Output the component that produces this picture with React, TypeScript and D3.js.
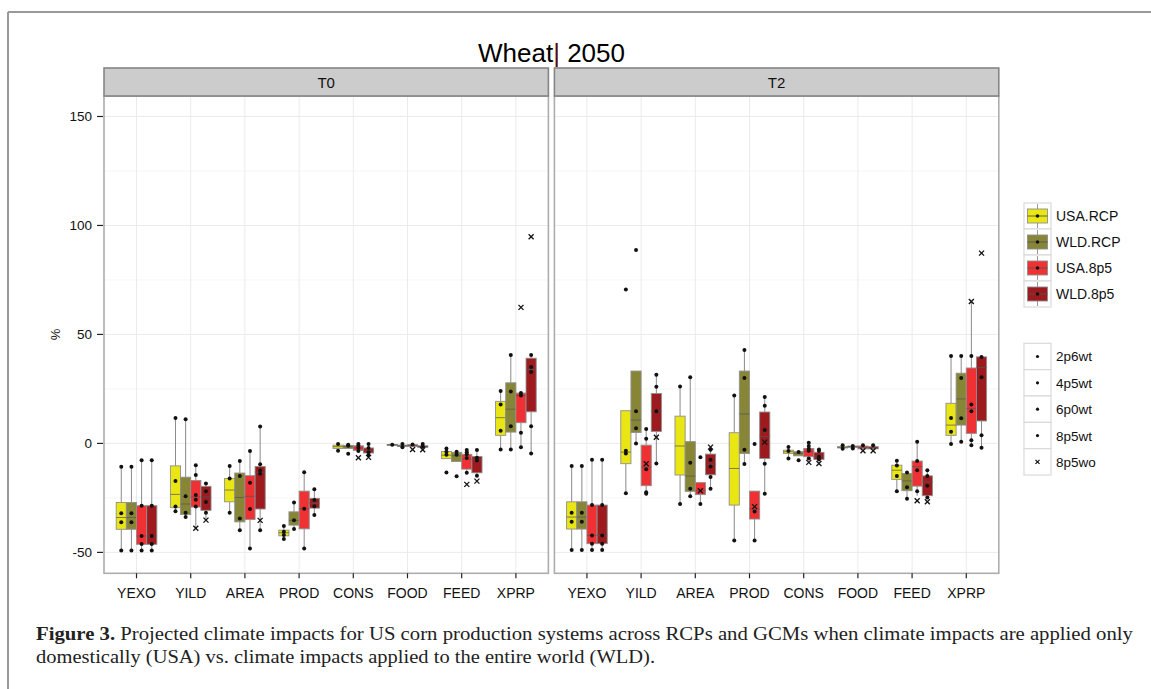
import React from 'react';
import * as d3 from 'd3';

const categories = ['YEXO', 'YILD', 'AREA', 'PROD', 'CONS', 'FOOD', 'FEED', 'XPRP'];
const groups = ['USA.RCP', 'WLD.RCP', 'USA.8p5', 'WLD.8p5'];
const groupColors = ['#E9E614', '#878636', '#EF3134', '#9D1B1F'];
const panels = ['T0', 'T2'];
const yTicks = [-50, 0, 50, 100, 150];
const yMinor = [-25, 25, 75, 125];
const pointLegend = ['2p6wt', '4p5wt', '6p0wt', '8p5wt', '8p5wo'];

// [lowWhisker, q1, median, q3, highWhisker] per category, per group
const statsT0 = [
  [[-49.1, -39.4, -34, -27.1, -10.7], [-49.1, -39.4, -34, -27.1, -10.7], [-49.1, -46.3, -42.5, -28.6, -7.7], [-49.1, -46.3, -42.5, -28.6, -7.7]],
  [[-31.1, -29.5, -23.4, -10.3, 11.6], [-33.8, -32.6, -27.8, -15.5, 11.1], [-38.9, -29.2, -24.6, -17, -10], [-35.2, -30.7, -24.6, -19.7, -18.4]],
  [[-31.8, -26.8, -21.4, -16.1, -10.4], [-39.9, -36, -24.8, -13.6, -8.1], [-48.2, -34.9, -24.3, -14.8, -3.5], [-39.9, -30.1, -13.2, -10.6, 7.8]],
  [[-43.9, -42.4, -41, -39.8, -37.9], [-39.3, -37.5, -35.3, -31.4, -27.1], [-48.2, -39.2, -30, -21.9, -13.2], [-32.9, -29.7, -27.5, -25.2, -21]],
  [[-3.4, -2.3, -1.5, -0.8, -0.3], [-2.3, -2.3, -1.5, -0.9, -0.6], [-3.5, -3.2, -2.1, -1.1, -0.3], [-6.4, -4.4, -3.1, -2.1, -0.3]],
  [[-0.8, -0.7, -0.6, -0.5, -0.4], [-1.8, -1.4, -1.1, -0.8, -0.3], [-1.5, -1.4, -0.9, -0.6, -0.5], [-2.9, -1.8, -1.4, -1.1, -0.3]],
  [[-7, -7, -5.4, -3.7, -2.3], [-8.3, -8.3, -5.7, -4.1, -3.8], [-13.5, -11.8, -7.2, -5, -3], [-14.8, -13.5, -7.5, -6, -3]],
  [[-2.8, 3.7, 11.8, 19.3, 24], [-2.8, 5.2, 15.7, 27.8, 40.6], [-1.8, 9.5, 22, 23.1, 23.1], [-4.6, 14.5, 33.9, 39.1, 40.6]],
];
const dotsT0 = [
  [[-10.7, -32.1, -36.2, -49.1], [-10.7, -32.1, -36.2, -49.1], [-7.7, -28.6, -42.5, -46.2, -49.1], [-7.7, -28.6, -42.5, -46.2, -49.1]],
  [[11.6, -17.3, -29, -31.1], [11.1, -24.2, -31.8, -33.8], [-10, -14.5, -23.7, -25.9, -29], [-18.4, -21.9, -26.9, -31.8]],
  [[-10.4, -16.1, -31.8], [-8.1, -15, -34.4, -39.9], [-3.5, -18, -30.1, -48.2], [7.8, -9.6, -12.4, -13.9, -39.9]],
  [[-37.9, -40.5, -42, -43.9], [-27.1, -35.3, -39.3], [-13.2, -30, -48.2], [-21, -26, -28.8, -32.9]],
  [[-0.3, -3.4], [-0.6, -1.1, -4.7], [-0.3, -1.1, -2.1, -3.5], [-0.3, -2.1, -4.1, -5.4]],
  [[-0.6], [-0.3, -1.8], [-0.5], [-0.3, -1.4]],
  [[-2.3, -3.8, -5.2, -13.3], [-3.8, -5.2, -15.1], [-3, -4.1, -5, -6.7, -13.5], [-3, -6.6, -7.9, -14.8]],
  [[24, 17.9, 5.8, -2.8], [40.6, 23.8, 7.9, -2.8], [23.1, 22, 4.9, -1.8], [40.6, 35.1, 32.8, 7.9, -4.6]],
];
const crossT0 = [
  [[], [], [], []],
  [[], [], [-38.9], [-35.2]],
  [[], [], [], [-35.3]],
  [[], [], [], []],
  [[], [], [-6.6], [-6.4]],
  [[], [], [-2.8], [-2.9]],
  [[], [], [-18.8], [-17.3]],
  [[], [], [62.4], [94.8]],
];

const statsT2 = [
  [[-48.9, -39.3, -33.8, -26.8, -10.4], [-48.9, -39.3, -33.8, -26.8, -10.4], [-48.9, -46, -42.2, -28.3, -7.5], [-48.9, -46, -42.2, -28.3, -7.5]],
  [[-22.9, -9.3, -4, 15, 15], [0, 5, 10.7, 33.2, 33.2], [-23.1, -19.4, -10.9, -0.8, 6.6], [-9.2, 5.5, 14.8, 22.9, 31.5]],
  [[-27.8, -14.5, -1.2, 12.5, 26.1], [-24.2, -22, -15, 0.8, 30.3], [-27.8, -23.5, -21.7, -18, -18], [-20.8, -14.4, -9.5, -4.9, -2.9]],
  [[-44.5, -28.3, -11.5, 4.9, 22], [-9.5, -4.6, 13.5, 33.2, 42.8], [-44.5, -34.7, -30.1, -21.9, -21.9], [-23.1, -6.9, 3.2, 14.4, 21.3]],
  [[-6.9, -4.6, -3.8, -3.1, -1.7], [-5.7, -5.7, -4.6, -3.8, -3.8], [-6.9, -6.1, -3.8, -2.3, 0.3], [-7.4, -7.4, -5.8, -4.1, -2.8]],
  [[-2.5, -2.1, -1.8, -1.5, -0.8], [-2.3, -1.8, -1.5, -1.2, -1.2], [-2.5, -2.5, -1.8, -1.2, -0.9], [-2.5, -2.5, -2.1, -1.5, -0.9]],
  [[-21.9, -16.5, -12.3, -10, -8], [-25.4, -21.7, -17.2, -13.8, -12.9], [-24, -19.6, -10.7, -8.1, 0.8], [-24.8, -24, -17.6, -14.9, -12.3]],
  [[-0.3, 3.7, 8.4, 18.4, 40.1], [0.8, 8.4, 20.4, 32.2, 40.1], [-0.9, 4.6, 16.1, 34.6, 65.1], [-2, 10.3, 34.8, 39.7, 39.7]],
];
const dotsT2 = [
  [[-10.4, -31.8, -35.9, -48.9], [-10.4, -31.8, -35.9, -48.9], [-7.5, -28.3, -42.2, -46, -48.9], [-7.5, -28.3, -42.2, -46, -48.9]],
  [[70.6, -3.4, -4.6, -22.9], [88.7, 14.8, 6.9, 0], [6.6, 2.1, -11.9, -22.4, -23.1], [31.5, 26, 14.8, -9.2]],
  [[26.1, -27.8], [30.3, -8.9, -20.8, -24.2], [-6.3, -27.8], [-2.9, -7.5, -10.6, -15.4, -20.8]],
  [[22, -44.5], [42.8, 30, -2.9, -9.5], [-0.3, -31.3, -44.5], [21.3, 17.3, 6.1, -9.3, -23.1]],
  [[-1.7, -3.5, -6.9], [-3.9, -7.7], [0.3, -1.2, -2.5, -3.4, -6.9], [-2.8, -3.5, -6.1, -7.4]],
  [[-0.8, -2.5], [-1.2, -2.3], [-0.9], [-0.9]],
  [[-8, -10.1, -14.9, -21.9], [-13.3, -20.1, -25.4], [0.8, -8.1, -12.3, -21.9], [-12.3, -14.9, -19.4, -24.8]],
  [[40.1, 11.6, 5.4, -0.3], [40.1, 30, 11.5, 0.8], [40.1, 17.9, 14.7, 1.4, -0.9], [39.7, 30.3, 3.7, -2]],
];
const crossT2 = [
  [[], [], [], []],
  [[], [], [-9.3], [2.8]],
  [[], [], [-21.7], [-1.7]],
  [[], [], [-29], [0.6]],
  [[], [], [-8.7], [-9.2]],
  [[], [], [-3.4], [-3.4]],
  [[], [], [-26.3], [-26.8]],
  [[], [], [65.1], [87.3]],
];

const panelStats = [statsT0, statsT2];
const panelDots = [dotsT0, dotsT2];
const panelCross = [crossT0, crossT2];

const W = 1151;
const H = 689;
const panelX0 = [104, 554.4];
const panelW = 444.4;
const panelTop = 96;
const panelBottom = 573.3;

const y = d3.scaleLinear().domain([-59.6, 159.4]).range([panelBottom, panelTop]);

function Cross({ cx, cy, s }: { cx: number; cy: number; s: number }) {
  return (
    <g stroke="#111" strokeWidth={1.3}>
      <line x1={cx - s} y1={cy - s} x2={cx + s} y2={cy + s} />
      <line x1={cx - s} y1={cy + s} x2={cx + s} y2={cy - s} />
    </g>
  );
}

function Panel({ pi }: { pi: number }) {
  const x0 = panelX0[pi];
  const x = d3.scalePoint<string>().domain(categories).range([x0, x0 + panelW]).padding(0.6);
  const step = x.step();
  const bw = (step * 0.75) / 4;
  const stats = panelStats[pi];
  const dots = panelDots[pi];
  const cross = panelCross[pi];
  return (
    <g>
      <rect x={x0} y={panelTop} width={panelW} height={panelBottom - panelTop} fill="#fff" />
      {yMinor.map((v) => (
        <line key={'mi' + v} x1={x0} x2={x0 + panelW} y1={y(v)} y2={y(v)} stroke="#F6F6F6" strokeWidth={1} />
      ))}
      {yTicks.map((v) => (
        <line key={'ma' + v} x1={x0} x2={x0 + panelW} y1={y(v)} y2={y(v)} stroke="#EBEBEB" strokeWidth={1} />
      ))}
      {categories.map((c) => (
        <line key={'vx' + c} x1={x(c)!} x2={x(c)!} y1={panelTop} y2={panelBottom} stroke="#EBEBEB" strokeWidth={1} />
      ))}
      {categories.map((c, ci) =>
        groups.map((g, gi) => {
          const cx = x(c)! + (gi - 1.5) * bw;
          const [lo, q1, med, q3, hi] = stats[ci][gi];
          return (
            <g key={c + g}>
              <line x1={cx} x2={cx} y1={y(hi)} y2={y(q3)} stroke="#8a8a8a" strokeWidth={1} />
              <line x1={cx} x2={cx} y1={y(q1)} y2={y(lo)} stroke="#8a8a8a" strokeWidth={1} />
              <rect
                x={cx - bw / 2}
                y={y(q3)}
                width={bw}
                height={Math.max(1, y(q1) - y(q3))}
                fill={groupColors[gi]}
                stroke="#8f8f8f"
                strokeWidth={0.9}
              />
              <line x1={cx - bw / 2} x2={cx + bw / 2} y1={y(med)} y2={y(med)} stroke="#555" strokeWidth={0.9} strokeOpacity={0.8} />
              {dots[ci][gi].map((v, k) => (
                <circle key={'d' + k} cx={cx} cy={y(v)} r={2} fill="#111" />
              ))}
              {cross[ci][gi].map((v, k) => (
                <Cross key={'x' + k} cx={cx} cy={y(v)} s={2.5} />
              ))}
            </g>
          );
        })
      )}
      <rect x={x0} y={panelTop} width={panelW} height={panelBottom - panelTop} fill="none" stroke="#ADADAD" strokeWidth={1.6} />
      {/* strip */}
      <rect x={x0} y={68} width={panelW} height={panelTop - 68} fill="#CCCCCC" stroke="#858585" strokeWidth={1.6} />
      <text x={x0 + panelW / 2} y={87.5} textAnchor="middle" fontFamily="Liberation Sans, Arial, sans-serif" fontSize={15} fill="#111">
        {panels[pi]}
      </text>
      {/* x axis */}
      {categories.map((c) => (
        <g key={'xt' + c}>
          <line x1={x(c)!} x2={x(c)!} y1={panelBottom} y2={panelBottom + 5} stroke="#222" strokeWidth={1.2} />
          <text x={x(c)!} y={598} textAnchor="middle" fontFamily="Liberation Sans, Arial, sans-serif" fontSize={14} fill="#111">
            {c}
          </text>
        </g>
      ))}
    </g>
  );
}

export default function App() {
  const font = 'Liberation Sans, Arial, sans-serif';
  const serif = "'Liberation Serif', 'DejaVu Serif', serif";
  const leg1Top = 203;
  const leg1H = 26;
  const leg2Top = 343.3;
  const leg2H = 26.35;
  const keyX = 1024;
  const keyW = 27;
  return (
    <svg width={W} height={H} style={{ position: 'absolute', left: 0, top: 0, background: '#fff' }}>
      <rect x={0} y={0} width={W} height={H} fill="#fff" />
      {/* figure frame */}
      <line x1={8} x2={W} y1={12} y2={12} stroke="#999" strokeWidth={2} />
      <line x1={8} x2={8} y1={12} y2={H} stroke="#999" strokeWidth={2} />

      {/* title */}
      <text x={551.5} y={62} textAnchor="middle" fontFamily={font} fontSize={26} fill="#000">
        Wheat<tspan fill="#5a0a0a">|</tspan> 2050
      </text>

      <Panel pi={0} />
      <Panel pi={1} />

      {/* y axis */}
      {yTicks.map((v) => (
        <g key={'yt' + v}>
          <line x1={97} x2={103} y1={y(v)} y2={y(v)} stroke="#222" strokeWidth={1.2} />
          <text x={92} y={y(v) + 4.5} textAnchor="end" fontFamily={font} fontSize={13.5} fill="#111">
            {v}
          </text>
        </g>
      ))}
      <text transform={`translate(60,${y(50)}) rotate(-90)`} textAnchor="middle" fontFamily={font} fontSize={13} fill="#111">
        %
      </text>

      {/* legend 1: groups */}
      {groups.map((g, gi) => {
        const ky = leg1Top + gi * leg1H;
        const cx = keyX + keyW / 2;
        const cy = ky + leg1H / 2;
        return (
          <g key={'lg' + g}>
            <rect x={keyX} y={ky} width={keyW} height={leg1H} fill="#fff" stroke="#DADADA" strokeWidth={1.2} />
            <line x1={cx} x2={cx} y1={ky + 1} y2={ky + leg1H - 1} stroke="#9a9a9a" strokeWidth={1} />
            <rect x={keyX + 3.5} y={ky + 6} width={keyW - 7} height={leg1H - 12} fill={groupColors[gi]} stroke="#8f8f8f" strokeWidth={0.9} />
            <line x1={keyX + 3.5} x2={keyX + keyW - 3.5} y1={cy} y2={cy} stroke="#555" strokeWidth={0.9} />
            <circle cx={cx} cy={cy} r={1.8} fill="#111" />
            <text x={1056} y={cy + 5} fontFamily={font} fontSize={14} fill="#111">
              {g}
            </text>
          </g>
        );
      })}

      {/* legend 2: scenarios */}
      {pointLegend.map((p, pi) => {
        const ky = leg2Top + pi * leg2H;
        const cx = keyX + keyW / 2;
        const cy = ky + leg2H / 2;
        return (
          <g key={'lp' + p}>
            <rect x={keyX} y={ky} width={keyW} height={leg2H} fill="#fff" stroke="#DADADA" strokeWidth={1.2} />
            {p === '8p5wo' ? <Cross cx={cx} cy={cy} s={2} /> : <circle cx={cx} cy={cy} r={1.6} fill="#111" />}
            <text x={1056} y={cy + 5} fontFamily={font} fontSize={13.5} fill="#111">
              {p}
            </text>
          </g>
        );
      })}

      {/* caption */}
      <text x={36} y={640} fontFamily={serif} fontSize={19.5} fill="#222" textLength={1097} lengthAdjust="spacingAndGlyphs">
        <tspan fontWeight="bold">Figure 3.</tspan> Projected climate impacts for US corn production systems across RCPs and GCMs when climate impacts are applied only
      </text>
      <text x={36} y={663} fontFamily={serif} fontSize={19.5} fill="#222" textLength={619} lengthAdjust="spacingAndGlyphs">
        domestically (USA) vs. climate impacts applied to the entire world (WLD).
      </text>
    </svg>
  );
}
